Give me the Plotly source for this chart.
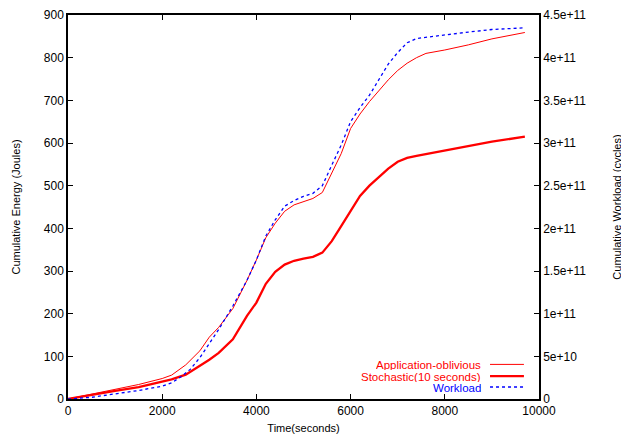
import plotly.graph_objects as go

# Time samples (seconds)
time_s = [0, 500, 1000, 1500, 2000, 2200, 2500, 2800, 3000, 3200, 3500, 3800, 4000,
          4200, 4400, 4600, 4800, 5000, 5200, 5400, 5600, 5800, 6000, 6200, 6400,
          6600, 6800, 7000, 7200, 7400, 7600, 8000, 8500, 9000, 9700]

# Cumulative energy (Joules)
app_oblivious = [0, 11, 22, 34, 48, 56, 80, 113, 145, 168, 212, 278, 326,
                 378, 412, 440, 455, 463, 470, 484, 528, 575, 634, 668, 697,
                 722, 748, 770, 787, 800, 810, 818, 830, 844, 859]
stochastic = [0, 10, 19, 28, 40, 46, 57, 77, 92, 108, 140, 195, 226,
              270, 298, 315, 324, 329, 333, 343, 370, 405, 440, 476, 500,
              520, 540, 556, 565, 570, 574, 582, 592, 603, 615]

# Workload samples
time_w = [0, 500, 1000, 1500, 2000, 2200, 2400, 2600, 2800, 3000, 3200, 3500, 3800,
          4000, 4200, 4400, 4600, 4800, 5000, 5200, 5400, 5600, 5800, 6000, 6200,
          6400, 6600, 6800, 7000, 7200, 7400, 7600, 8000, 8500, 9000, 9700]
workload_cycles = [0, 2.0e9, 6.0e9, 1.0e10, 1.5e10, 1.9e10, 2.6e10, 3.5e10, 4.85e10,
                   6.5e10, 8.15e10, 1.09e11, 1.39e11, 1.63e11, 1.91e11, 2.10e11,
                   2.26e11, 2.325e11, 2.375e11, 2.41e11, 2.50e11, 2.74e11, 2.975e11,
                   3.25e11, 3.415e11, 3.56e11, 3.75e11, 3.925e11, 4.06e11, 4.175e11,
                   4.225e11, 4.24e11, 4.265e11, 4.30e11, 4.33e11, 4.35e11]

energy_ticks = [0, 100, 200, 300, 400, 500, 600, 700, 800, 900]
workload_ticks = [0, 5e10, 1e11, 1.5e11, 2e11, 2.5e11, 3e11, 3.5e11, 4e11, 4.5e11]
workload_tick_text = ["0", "5e+10", "1e+11", "1.5e+11", "2e+11", "2.5e+11",
                      "3e+11", "3.5e+11", "4e+11", "4.5e+11"]
time_ticks = [0, 2000, 4000, 6000, 8000, 10000]
time_tick_text = ["0", "2000", "4000", "6000", "8000", "10000"]

legend_names = ["Application-oblivious", "Stochastic(10 seconds)", "Workload"]

RED = "#ff0000"
BLUE = "#0000ff"
FONT = "Liberation Sans, Arial, sans-serif"

fig = go.Figure()
fig.add_trace(go.Scatter(x=time_s, y=app_oblivious, mode="lines",
                         line=dict(color=RED, width=1), name=legend_names[0]))
fig.add_trace(go.Scatter(x=time_s, y=stochastic, mode="lines",
                         line=dict(color=RED, width=2.3), name=legend_names[1]))
fig.add_trace(go.Scatter(x=time_w, y=workload_cycles, mode="lines", yaxis="y2",
                         line=dict(color=BLUE, width=1.3, dash="dot"),
                         name=legend_names[2]))

# gnuplot-style legend: text right-aligned, sample line on the right
legend_y = [0.0901, 0.0597, 0.0312]
legend_colors = [RED, RED, BLUE]
legend_styles = [dict(color=RED, width=1), dict(color=RED, width=2.3),
                 dict(color=BLUE, width=1.3, dash="dot")]
annotations = []
shapes = []
for name, yy, col, st in zip(legend_names, legend_y, legend_colors, legend_styles):
    annotations.append(dict(x=0.879, y=yy, xref="paper", yref="paper", text=name,
                            showarrow=False, xanchor="right", yanchor="middle",
                            borderpad=0, height=11,
                            font=dict(family=FONT, size=11.5, color=col)))
    shapes.append(dict(type="line", xref="paper", yref="paper", x0=0.896, x1=0.968,
                       y0=yy, y1=yy, line=st))

axis_common = dict(showgrid=False, zeroline=False, ticks="inside", ticklen=5,
                   tickcolor="black", linecolor="black", linewidth=1.5,
                   automargin=False, ticklabeloverflow="allow",
                   tickfont=dict(family=FONT, size=12, color="black"))

fig.update_layout(
    width=621, height=429,
    margin=dict(l=60, r=90, t=7, b=38),
    paper_bgcolor="white", plot_bgcolor="white",
    showlegend=False,
    annotations=annotations,
    shapes=shapes,
    xaxis=dict(range=[0, 10000], tickvals=time_ticks, ticktext=time_tick_text,
               mirror="ticks", showline=True,
               title=dict(text="Time(seconds)", font=dict(family=FONT, size=11, color="black"),
                          standoff=7),
               **axis_common),
    yaxis=dict(range=[0, 900], tickvals=energy_ticks, mirror=True, showline=True,
               title=dict(text="Cumulative Energy (Joules)",
                          font=dict(family=FONT, size=11, color="black"), standoff=21),
               **axis_common),
    yaxis2=dict(range=[0, 4.5e11], tickvals=workload_ticks, ticktext=workload_tick_text,
                overlaying="y", side="right", showline=True,
                title=dict(text="Cumulative Workload (cycles)",
                           font=dict(family=FONT, size=11, color="black"), standoff=28),
                **axis_common),
)

fig.write_html("out.html")
